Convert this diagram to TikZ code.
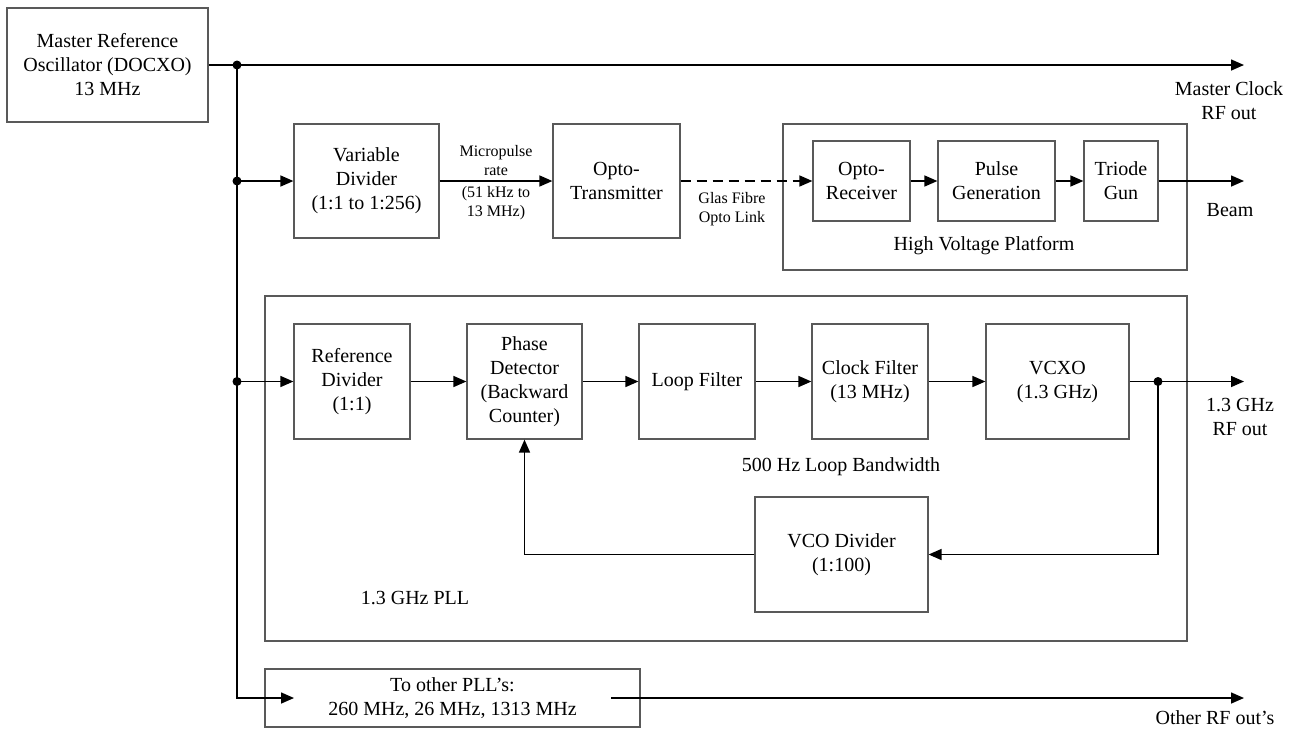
\documentclass[tikz,border=0pt]{standalone}
\usepackage{fontspec}
\setmainfont{Liberation Serif}
\usetikzlibrary{arrows.meta}

\tikzset{
  blk/.style={draw=black!65, line width=0.6pt, align=center, inner sep=1pt,
    font=\fontsize{10pt}{12pt}\selectfont},
  sz/.style 2 args={minimum width=#1*0.5pt, minimum height=#2*0.5pt},
  sig/.style={line width=0.75pt, -{Triangle[length=6.5pt,width=5.5pt]}},
  wire/.style={line width=0.75pt},
  lbl/.style={align=center, inner sep=0pt, font=\fontsize{10pt}{12pt}\selectfont},
  smalllbl/.style={align=center, inner sep=0pt, font=\fontsize{8pt}{9.5pt}\selectfont},
  dot/.style={circle, fill=black, inner sep=0pt, minimum size=4.5pt},
}

\begin{document}
\begin{tikzpicture}[x=0.5pt, y=-0.5pt]
\useasboundingbox (0,0) rectangle (1297,730);

% master oscillator and bus
\node[blk, sz={201}{114}] (master) at (107.5,65) {Master Reference\\Oscillator (DOCXO)\\13 MHz};
\coordinate (tap1) at (237,65);
\coordinate (tap2) at (237,181);
\coordinate (tap3) at (237,381.5);
\coordinate (clkout) at (1244,65);
\node[lbl] (clklbl) at (1229,100.5) {Master Clock\\RF out};

% micropulse branch
\node[blk, sz={145}{114}] (vardiv) at (366.5,181) {Variable\\Divider\\(1:1 to 1:256)};
\node[blk, sz={127}{114}] (optotx) at (616.5,181) {Opto-\\Transmitter};
\node[blk, sz={404}{146}] (hv) at (985,197) {};
\node[lbl] (hvlbl) at (984,246) {High Voltage Platform};
\node[blk, sz={97}{80}] (optorx) at (861.5,181) {Opto-\\Receiver};
\node[blk, sz={117}{80}] (pulsegen) at (996.5,181) {Pulse\\Generation};
\node[blk, sz={74}{80}] (triode) at (1121,181) {Triode\\Gun};
\coordinate (beamout) at (1244,181);
\node[lbl] (beamlbl) at (1230,210) {Beam};
\node[smalllbl] (ratelbl) at (496,160.5) {Micropulse\\rate};
\node[smalllbl] (rangelbl) at (496,203.5) {(51 kHz to\\13 MHz)};
\node[smalllbl] (fibrelbl) at (732,209) {Glas Fibre\\Opto Link};

% 1.3 GHz PLL
\node[blk, sz={922}{345}] (pll) at (726,468.5) {};
\node[lbl] (plllbl) at (415,598) {1.3 GHz PLL};
\node[blk, sz={116}{115}] (refdiv) at (352,381.5) {Reference\\Divider\\(1:1)};
\node[blk, sz={115}{115}] (phase) at (524.5,381.5) {Phase\\Detector\\(Backward\\Counter)};
\node[blk, sz={116}{115}] (loop) at (697,381.5) {Loop Filter};
\node[blk, sz={116}{115}] (clock) at (870,381.5) {Clock Filter\\(13 MHz)};
\node[blk, sz={143}{115}] (vcxo) at (1057.5,381.5) {VCXO\\(1.3 GHz)};
\node[blk, sz={173}{115}] (vcodiv) at (841.5,554.5) {VCO Divider\\(1:100)};
\node[lbl] (bwlbl) at (841,467) {500 Hz Loop Bandwidth};
\coordinate (fb) at (1158,381.5);
\coordinate (ghzout) at (1244,381.5);
\node[lbl] (ghzlbl) at (1240,416.5) {1.3 GHz\\RF out};

% other PLLs
\node[blk, sz={375}{58}] (other) at (452.5,698) {To other PLL's:\\260 MHz, 26 MHz, 1313 MHz};
\coordinate (othin) at (294,698);
\coordinate (othfrom) at (611,698);
\coordinate (othout) at (1244,698);
\node[lbl] (othlbl) at (1215,718) {Other RF out's};

% connectors
\draw[sig] (master) -- (clkout);
\draw[sig] (tap1) |- (othin);
\draw[sig] (tap2) -- (vardiv);
\draw[sig] (vardiv) -- (optotx);
\draw[sig, dash pattern=on 5pt off 3pt] (optotx) -- (optorx);
\draw[sig] (optorx) -- (pulsegen);
\draw[sig] (pulsegen) -- (triode);
\draw[sig] (triode) -- (beamout);
\draw[sig] (tap3) -- (refdiv);
\draw[sig] (refdiv) -- (phase);
\draw[sig] (phase) -- (loop);
\draw[sig] (loop) -- (clock);
\draw[sig] (clock) -- (vcxo);
\draw[sig] (vcxo) -- (ghzout);
\draw[sig] (fb) |- (vcodiv);
\draw[sig] (vcodiv) -| (phase);
\draw[sig] (othfrom) -- (othout);

% junction dots
\foreach \p in {tap1,tap2,tap3,fb}
  \node[dot] at (\p) {};
\end{tikzpicture}
\end{document}
